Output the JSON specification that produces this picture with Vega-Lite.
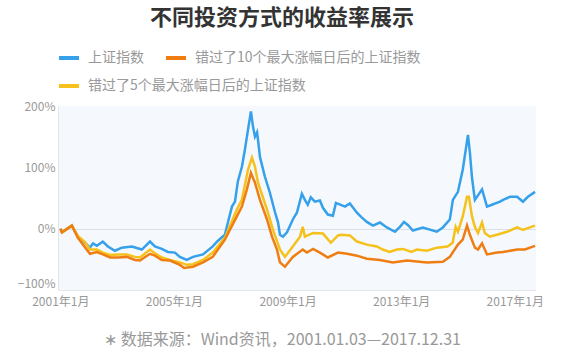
{
  "$schema": "https://vega.github.io/schema/vega-lite/v6.json",
  "width": 478,
  "height": 184,
  "autosize": {"type": "none"},
  "padding": {"left": 58, "top": 106, "right": 25, "bottom": 65},
  "config": {
    "font": "Noto Sans CJK SC",
    "view": {"fill": "#f5f9fd", "stroke": null},
    "legend": {
      "orient": "none",
      "direction": "horizontal",
      "title": null,
      "symbolType": "stroke",
      "symbolSize": 400,
      "symbolStrokeWidth": 4,
      "labelFontSize": 14,
      "labelColor": "#999999",
      "labelOffset": 7,
      "columnPadding": 14,
      "labelLimit": 400,
      "padding": 0
    }
  },
  "title": {
    "text": "不同投资方式的收益率展示",
    "fontSize": 22,
    "fontWeight": "bold",
    "color": "#333333",
    "anchor": "middle",
    "dx": -15,
    "offset": 16
  },
  "datasets": {
    "blue": [
      {"d": "2001-01-03", "v": 0}, {"d": "2001-01-22", "v": -6}, {"d": "2001-05-29", "v": 5}, {"d": "2001-08-15", "v": -13},
      {"d": "2001-11-13", "v": -23}, {"d": "2002-01-17", "v": -31}, {"d": "2002-02-25", "v": -24}, {"d": "2002-04-16", "v": -28},
      {"d": "2002-07-01", "v": -21}, {"d": "2002-09-05", "v": -29}, {"d": "2002-12-04", "v": -36}, {"d": "2003-03-03", "v": -31},
      {"d": "2003-07-10", "v": -29}, {"d": "2003-11-15", "v": -34}, {"d": "2004-02-28", "v": -21}, {"d": "2004-05-01", "v": -29},
      {"d": "2004-07-29", "v": -33}, {"d": "2004-10-15", "v": -38}, {"d": "2005-01-14", "v": -39}, {"d": "2005-03-18", "v": -46},
      {"d": "2005-06-15", "v": -51}, {"d": "2005-09-03", "v": -46}, {"d": "2006-01-10", "v": -42}, {"d": "2006-05-15", "v": -29},
      {"d": "2006-07-18", "v": -20}, {"d": "2006-10-18", "v": -10}, {"d": "2006-11-26", "v": 10}, {"d": "2007-01-17", "v": 36},
      {"d": "2007-02-25", "v": 44}, {"d": "2007-04-03", "v": 77}, {"d": "2007-05-25", "v": 101}, {"d": "2007-07-03", "v": 129},
      {"d": "2007-08-11", "v": 161}, {"d": "2007-09-18", "v": 191}, {"d": "2007-10-15", "v": 166}, {"d": "2007-11-09", "v": 150},
      {"d": "2007-12-06", "v": 157}, {"d": "2007-12-18", "v": 145}, {"d": "2008-01-12", "v": 117}, {"d": "2008-03-15", "v": 85},
      {"d": "2008-05-18", "v": 59}, {"d": "2008-07-21", "v": 28}, {"d": "2008-09-01", "v": 10}, {"d": "2008-09-25", "v": -10},
      {"d": "2008-11-03", "v": -13}, {"d": "2008-12-25", "v": -6}, {"d": "2009-03-10", "v": 15}, {"d": "2009-05-01", "v": 26},
      {"d": "2009-07-04", "v": 57}, {"d": "2009-08-12", "v": 47}, {"d": "2009-09-18", "v": 39}, {"d": "2009-10-27", "v": 51},
      {"d": "2009-12-18", "v": 44}, {"d": "2010-02-21", "v": 46}, {"d": "2010-04-01", "v": 34}, {"d": "2010-06-03", "v": 23},
      {"d": "2010-08-07", "v": 21}, {"d": "2010-09-15", "v": 42}, {"d": "2011-01-10", "v": 36}, {"d": "2011-03-13", "v": 41},
      {"d": "2011-06-12", "v": 26}, {"d": "2011-08-15", "v": 18}, {"d": "2011-10-18", "v": 11}, {"d": "2012-01-04", "v": 5},
      {"d": "2012-04-03", "v": 10}, {"d": "2012-07-01", "v": 2}, {"d": "2012-10-13", "v": -5}, {"d": "2012-12-16", "v": 3},
      {"d": "2013-02-06", "v": 11}, {"d": "2013-03-28", "v": 6}, {"d": "2013-06-01", "v": -3}, {"d": "2013-10-07", "v": 2},
      {"d": "2014-04-04", "v": -5}, {"d": "2014-06-21", "v": 2}, {"d": "2014-09-19", "v": 15}, {"d": "2014-10-28", "v": 47},
      {"d": "2015-01-01", "v": 60}, {"d": "2015-03-04", "v": 96}, {"d": "2015-05-10", "v": 153}, {"d": "2015-06-04", "v": 124},
      {"d": "2015-07-01", "v": 83}, {"d": "2015-08-07", "v": 47}, {"d": "2015-11-07", "v": 64}, {"d": "2016-01-10", "v": 36},
      {"d": "2016-03-13", "v": 39}, {"d": "2016-06-25", "v": 44}, {"d": "2016-08-04", "v": 47}, {"d": "2016-11-01", "v": 52},
      {"d": "2017-02-01", "v": 52}, {"d": "2017-04-16", "v": 44}, {"d": "2017-06-19", "v": 52}, {"d": "2017-09-19", "v": 60}
    ],
    "yellow": [
      {"d": "2001-01-03", "v": 0}, {"d": "2001-01-22", "v": -6}, {"d": "2001-05-29", "v": 5}, {"d": "2001-08-15", "v": -12},
      {"d": "2001-11-13", "v": -22}, {"d": "2002-01-17", "v": -34}, {"d": "2002-04-16", "v": -34}, {"d": "2002-07-01", "v": -39},
      {"d": "2002-10-04", "v": -43}, {"d": "2003-01-15", "v": -42}, {"d": "2003-05-07", "v": -42}, {"d": "2003-08-19", "v": -46},
      {"d": "2003-10-22", "v": -47}, {"d": "2004-02-28", "v": -34}, {"d": "2004-05-01", "v": -40}, {"d": "2004-07-29", "v": -47},
      {"d": "2004-11-12", "v": -51}, {"d": "2005-03-18", "v": -55}, {"d": "2005-06-15", "v": -59}, {"d": "2005-09-03", "v": -58},
      {"d": "2006-01-10", "v": -51}, {"d": "2006-05-15", "v": -39}, {"d": "2006-10-18", "v": -15}, {"d": "2007-03-21", "v": 31},
      {"d": "2007-05-25", "v": 47}, {"d": "2007-08-11", "v": 96}, {"d": "2007-10-01", "v": 116}, {"d": "2007-11-09", "v": 101},
      {"d": "2007-12-18", "v": 75}, {"d": "2008-04-12", "v": 31}, {"d": "2008-06-28", "v": -2}, {"d": "2008-09-25", "v": -34},
      {"d": "2008-11-28", "v": -46}, {"d": "2009-03-10", "v": -29}, {"d": "2009-06-10", "v": -13}, {"d": "2009-07-15", "v": 3},
      {"d": "2009-08-12", "v": -13}, {"d": "2009-11-25", "v": -7}, {"d": "2010-04-01", "v": -8}, {"d": "2010-07-12", "v": -23},
      {"d": "2010-10-12", "v": -11}, {"d": "2010-11-25", "v": -10}, {"d": "2011-03-13", "v": -11}, {"d": "2011-06-12", "v": -21},
      {"d": "2011-10-18", "v": -26}, {"d": "2012-02-24", "v": -29}, {"d": "2012-05-09", "v": -34}, {"d": "2012-08-06", "v": -38},
      {"d": "2012-11-06", "v": -34}, {"d": "2013-01-21", "v": -33}, {"d": "2013-05-15", "v": -38}, {"d": "2013-07-18", "v": -34},
      {"d": "2013-11-28", "v": -36}, {"d": "2014-04-04", "v": -31}, {"d": "2014-08-21", "v": -29}, {"d": "2014-10-25", "v": -23},
      {"d": "2014-12-03", "v": 3}, {"d": "2015-01-01", "v": -5}, {"d": "2015-03-04", "v": 20}, {"d": "2015-04-28", "v": 52},
      {"d": "2015-05-22", "v": 52}, {"d": "2015-07-01", "v": 20}, {"d": "2015-08-07", "v": 3}, {"d": "2015-09-16", "v": -7},
      {"d": "2015-11-07", "v": 10}, {"d": "2015-12-13", "v": -7}, {"d": "2016-02-15", "v": -13}, {"d": "2016-05-16", "v": -10},
      {"d": "2016-09-24", "v": -5}, {"d": "2017-02-01", "v": 2}, {"d": "2017-04-16", "v": -2}, {"d": "2017-07-16", "v": 2},
      {"d": "2017-09-19", "v": 5}
    ],
    "orange": [
      {"d": "2001-01-03", "v": 0}, {"d": "2001-01-22", "v": -6}, {"d": "2001-05-29", "v": 5}, {"d": "2001-08-15", "v": -15},
      {"d": "2001-10-18", "v": -26}, {"d": "2002-01-17", "v": -41}, {"d": "2002-04-16", "v": -38}, {"d": "2002-07-01", "v": -42},
      {"d": "2002-10-04", "v": -47}, {"d": "2003-01-15", "v": -47}, {"d": "2003-05-07", "v": -46}, {"d": "2003-08-19", "v": -51},
      {"d": "2003-10-22", "v": -52}, {"d": "2004-02-28", "v": -41}, {"d": "2004-05-01", "v": -44}, {"d": "2004-07-29", "v": -51},
      {"d": "2004-11-12", "v": -52}, {"d": "2005-03-18", "v": -59}, {"d": "2005-05-13", "v": -64}, {"d": "2005-09-03", "v": -62},
      {"d": "2006-01-10", "v": -55}, {"d": "2006-05-15", "v": -46}, {"d": "2006-10-18", "v": -18}, {"d": "2006-12-21", "v": -2},
      {"d": "2007-03-21", "v": 20}, {"d": "2007-05-25", "v": 36}, {"d": "2007-07-28", "v": 64}, {"d": "2007-09-18", "v": 91},
      {"d": "2007-11-09", "v": 75}, {"d": "2008-01-12", "v": 47}, {"d": "2008-04-12", "v": 15}, {"d": "2008-06-15", "v": -13},
      {"d": "2008-08-18", "v": -34}, {"d": "2008-09-25", "v": -55}, {"d": "2008-11-28", "v": -62}, {"d": "2009-03-10", "v": -46},
      {"d": "2009-07-15", "v": -34}, {"d": "2009-09-06", "v": -39}, {"d": "2009-11-25", "v": -33}, {"d": "2010-02-21", "v": -39},
      {"d": "2010-06-03", "v": -47}, {"d": "2010-10-12", "v": -39}, {"d": "2011-02-06", "v": -41}, {"d": "2011-06-12", "v": -44},
      {"d": "2011-10-18", "v": -49}, {"d": "2012-04-03", "v": -51}, {"d": "2012-09-16", "v": -55}, {"d": "2013-03-16", "v": -52},
      {"d": "2013-11-28", "v": -55}, {"d": "2014-06-21", "v": -54}, {"d": "2014-09-19", "v": -46}, {"d": "2015-01-01", "v": -26},
      {"d": "2015-03-04", "v": -18}, {"d": "2015-04-28", "v": 5}, {"d": "2015-06-04", "v": -10}, {"d": "2015-08-07", "v": -31},
      {"d": "2015-09-16", "v": -34}, {"d": "2015-11-07", "v": -24}, {"d": "2016-01-10", "v": -42}, {"d": "2016-05-19", "v": -39},
      {"d": "2016-08-04", "v": -38}, {"d": "2017-02-01", "v": -34}, {"d": "2017-05-10", "v": -34}, {"d": "2017-09-19", "v": -28}
    ]
  },
  "encoding": {
    "x": {
      "field": "d",
      "type": "temporal",
      "scale": {
        "type": "utc",
        "domain": [
          {"year": 2000, "month": 12, "date": 2, "utc": true},
          {"year": 2017, "month": 10, "date": 1, "utc": true}
        ],
        "nice": false
      },
      "title": "∗ 数据来源：Wind资讯，2001.01.03—2017.12.31",
      "axis": {
        "values": [
          {"year": 2001, "month": 1, "date": 1, "utc": true},
          {"year": 2005, "month": 1, "date": 1, "utc": true},
          {"year": 2009, "month": 1, "date": 1, "utc": true},
          {"year": 2013, "month": 1, "date": 1, "utc": true},
          {"year": 2017, "month": 1, "date": 1, "utc": true}
        ],
        "labelExpr": "utcFormat(datum.value, '%Y年%-m月')",
        "labelFlush": false,
        "labelOverlap": false,
        "labelColor": "#999999",
        "labelFontSize": 12,
        "labelPadding": 6,
        "grid": false,
        "domainColor": "#e1e6eb",
        "ticks": false,
        "titleFontSize": 16,
        "titleFontWeight": "normal",
        "titleColor": "#999999",
        "titleX": 224,
        "titleY": 49,
        "titleAlign": "center",
        "titleBaseline": "middle"
      }
    },
    "y": {
      "field": "v",
      "type": "quantitative",
      "scale": {"domain": [-100, 200], "nice": false},
      "title": null,
      "axis": {
        "values": [-100, 0, 100, 200],
        "labelExpr": "(datum.value < 0 ? '−' : '') + abs(datum.value) + '%'",
        "labelColor": "#999999",
        "labelFontSize": 12,
        "labelPadding": 3,
        "labelBaseline": {"condition": {"test": "datum.value === -100", "value": "bottom"}, "value": "middle"},
        "ticks": false,
        "domainColor": "#e1e6eb",
        "grid": true,
        "gridColor": "#dcdfe3",
        "gridOpacity": {"condition": {"test": "datum.value === 0", "value": 1}, "value": 0}
      }
    }
  },
  "layer": [
    {
      "data": {"name": "blue"},
      "mark": {"type": "line", "strokeWidth": 2.5},
      "encoding": {
        "color": {
          "datum": "上证指数",
          "scale": {
            "domain": ["上证指数", "错过了10个最大涨幅日后的上证指数"],
            "range": ["#36a0eb", "#f07d12"]
          },
          "legend": {"legendX": -1, "legendY": -60}
        }
      }
    },
    {
      "data": {"name": "yellow"},
      "mark": {"type": "line", "strokeWidth": 2.5},
      "encoding": {
        "stroke": {
          "datum": "错过了5个最大涨幅日后的上证指数",
          "scale": {
            "domain": ["错过了5个最大涨幅日后的上证指数"],
            "range": ["#f5c11a"]
          },
          "legend": {"legendX": -1, "legendY": -32}
        }
      }
    },
    {
      "data": {"name": "orange"},
      "mark": {"type": "line", "strokeWidth": 2.5},
      "encoding": {"color": {"datum": "错过了10个最大涨幅日后的上证指数"}}
    }
  ]
}
